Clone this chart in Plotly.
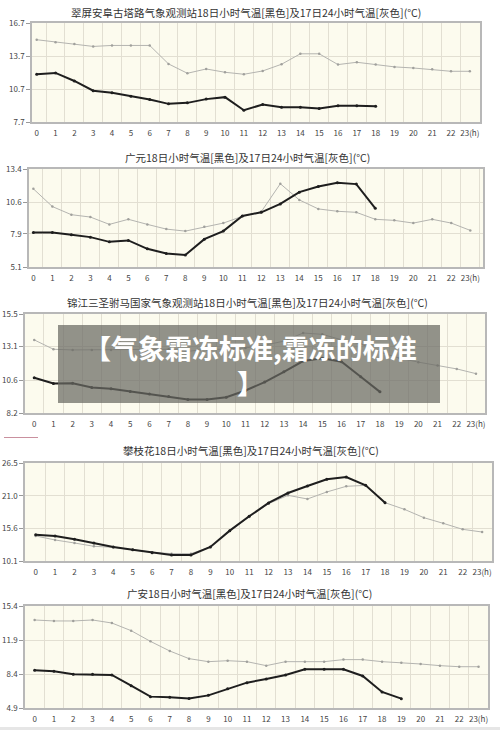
import plotly.graph_objects as go

hours = list(range(24))
hour_labels = [str(h) for h in range(23)] + ["23(h)"]

# 翠屏安阜古塔路
p1_title = "翠屏安阜古塔路气象观测站18日小时气温[黑色]及17日24小时气温[灰色](°C)"
p1_ticks = [7.7, 10.7, 13.7, 16.7]
p1_gray = [15.18, 14.96, 14.78, 14.57, 14.66, 14.66, 14.66, 12.98, 12.13, 12.52, 12.22, 12.04,
           12.34, 12.95, 13.9, 13.9, 12.92, 13.13, 12.92, 12.71, 12.61, 12.49, 12.31, 12.31]
p1_black = [12.04, 12.16, 11.43, 10.54, 10.36, 10.05, 9.75, 9.35, 9.44, 9.78, 9.96, 8.77,
            9.29, 9.05, 9.05, 8.93, 9.17, 9.17, 9.14]

# 广元
p2_title = "广元18日小时气温[黑色]及17日24小时气温[灰色](°C)"
p2_ticks = [5.1, 7.9, 10.6, 13.4]
p2_gray = [11.72, 10.22, 9.53, 9.33, 8.71, 9.14, 8.71, 8.31, 8.14, 8.51, 8.82, 9.39,
           9.79, 12.15, 10.78, 10.02, 9.82, 9.73, 9.14, 9.05, 8.82, 9.14, 8.82, 8.2]
p2_black = [8.03, 8.03, 7.83, 7.63, 7.23, 7.35, 6.64, 6.24, 6.12, 7.46, 8.14, 9.42,
            9.73, 10.44, 11.44, 11.92, 12.23, 12.12, 10.07]

# 锦江
p3_title = "锦江三圣驸马国家气象观测站18日小时气温[黑色]及17日24小时气温[灰色](°C)"
p3_ticks = [8.2, 10.6, 13.1, 15.5]
p3_gray = [13.59, 12.9, 12.85, 12.85, 12.85, 12.9, 12.9, 12.9, 12.75, 12.9, 12.9, 13.0,
           13.2, 13.5, 14.1, 14.0, 13.6, 13.3, 12.7, 12.25, 11.95, 11.7, 11.45, 11.1]
p3_black = [10.8, 10.38, 10.4, 10.08, 9.98, 9.78, 9.61, 9.41, 9.19, 9.19, 9.36, 9.86,
            10.48, 11.24, 12.03, 12.23, 11.98, 10.87, 9.76]

# 攀枝花
p4_title = "攀枝花18日小时气温[黑色]及17日24小时气温[灰色](°C)"
p4_ticks = [10.1, 15.6, 21.0, 26.5]
p4_gray = [14.29, 13.62, 13.11, 12.56, 12.39, 12.0, 11.55, 11.33, 11.33, 12.45, 15.18, 17.46,
           19.7, 21.09, 20.48, 21.65, 22.6, 22.76, 19.86, 18.74, 17.35, 16.4, 15.4, 14.95]
p4_black = [14.51, 14.29, 13.73, 13.11, 12.45, 12.0, 11.5, 11.11, 11.11, 12.45, 15.18, 17.58,
            19.81, 21.48, 22.65, 23.77, 24.16, 22.76, 19.86]

# 广安
p5_title = "广安18日小时气温[黑色]及17日24小时气温[灰色](°C)"
p5_ticks = [4.9, 8.4, 11.9, 15.4]
p5_gray = [13.96, 13.86, 13.86, 13.96, 13.65, 12.86, 11.76, 10.77, 9.98, 9.67, 9.77, 9.67,
           9.26, 9.67, 9.67, 9.67, 9.88, 9.88, 9.67, 9.57, 9.43, 9.26, 9.15, 9.15]
p5_black = [8.78, 8.68, 8.37, 8.37, 8.3, 7.2, 6.07, 6.0, 5.89, 6.2, 6.89, 7.51,
            7.89, 8.3, 8.88, 8.88, 8.88, 8.2, 6.55, 5.86]

banner_text = "【气象霜冻标准,霜冻的标准<br>】"

W, H = 500, 730

# plot box in pixels (left, right, top, bottom), x range, title centre
panels = [
    dict(title=p1_title, ticks=p1_ticks, gray=p1_gray, black=p1_black,
         box=(32, 480, 23, 122), xr=(-0.25, 23.54), tx=246, ty=12),
    dict(title=p2_title, ticks=p2_ticks, gray=p2_gray, black=p2_black,
         box=(29, 483, 169, 267), xr=(-0.23, 23.67), tx=247, ty=157),
    dict(title=p3_title, ticks=p3_ticks, gray=p3_gray, black=p3_black,
         box=(25, 485, 314, 413), xr=(-0.48, 23.47), tx=247, ty=302),
    dict(title=p4_title, ticks=p4_ticks, gray=p4_gray, black=p4_black,
         box=(25, 492, 463, 561), xr=(-0.55, 23.51), tx=251, ty=450),
    dict(title=p5_title, ticks=p5_ticks, gray=p5_gray, black=p5_black,
         box=(25, 488, 606, 708), xr=(-0.5, 23.49), tx=249, ty=593),
]

FONT = "Noto Sans CJK SC, Noto Sans, sans-serif"

fig = go.Figure()
layout = dict(
    width=W,
    height=H,
    margin=dict(l=0, r=0, t=0, b=0),
    paper_bgcolor="white",
    plot_bgcolor="#fcfbee",
    showlegend=False,
    font=dict(family=FONT, color="#444"),
)
annotations = []
shapes = []

for i, p in enumerate(panels, start=1):
    left, right, top, bottom = p["box"]
    xa = "x" if i == 1 else f"x{i}"
    ya = "y" if i == 1 else f"y{i}"
    fig.add_trace(go.Scatter(
        x=hours[:len(p["gray"])], y=p["gray"], xaxis=xa, yaxis=ya,
        mode="lines+markers", line=dict(color="#b4b4b0", width=1),
        marker=dict(color="#a0a09c", size=2.5), hoverinfo="skip",
    ))
    fig.add_trace(go.Scatter(
        x=hours[:len(p["black"])], y=p["black"], xaxis=xa, yaxis=ya,
        mode="lines+markers", line=dict(color="#1e1e1e", width=2),
        marker=dict(color="#1e1e1e", size=3), hoverinfo="skip",
    ))
    layout[f"xaxis{i}"] = dict(
        domain=[left / W, right / W],
        anchor=ya,
        range=list(p["xr"]),
        tickmode="array",
        tickvals=hours,
        ticktext=hour_labels,
        tickfont=dict(size=8, color="#444"),
        showgrid=False,
        zeroline=False,
        showline=True,
        linecolor="#b8b8b8",
        linewidth=1.5,
        mirror=True,
        ticks="",
        ticklabelstandoff=3,
        automargin=False,
        minor=dict(tickmode="linear", tick0=0.5, dtick=1, showgrid=True,
                   gridcolor="#e2dfd2", gridwidth=1),
        fixedrange=True,
    )
    layout[f"yaxis{i}"] = dict(
        domain=[1 - bottom / H, 1 - top / H],
        anchor=xa,
        range=[p["ticks"][0], p["ticks"][-1]],
        tickmode="array",
        tickvals=p["ticks"],
        ticktext=[f"{v:.1f}" for v in p["ticks"]],
        tickfont=dict(size=8, color="#444"),
        showgrid=True,
        gridcolor="#e2dfd2",
        zeroline=False,
        showline=True,
        linecolor="#b8b8b8",
        linewidth=1.5,
        mirror=True,
        ticks="outside",
        ticklen=4,
        tickcolor="#999",
        automargin=False,
        fixedrange=True,
    )
    annotations.append(dict(
        text=p["title"], x=p["tx"] / W, y=1 - p["ty"] / H,
        xref="paper", yref="paper", xanchor="center", yanchor="middle",
        showarrow=False, font=dict(size=10.5, color="#333", family=FONT),
    ))

# grey banner laid over the third chart
shapes.append(dict(
    type="rect", xref="paper", yref="paper",
    x0=58 / W, x1=440 / W, y0=1 - 403 / H, y1=1 - 325 / H,
    fillcolor="rgba(105,105,98,0.72)", line=dict(width=0), layer="above",
))
annotations.append(dict(
    text=f"<b>{banner_text}</b>", x=250 / W, y=1 - 365 / H,
    xref="paper", yref="paper", xanchor="center", yanchor="middle", align="center",
    showarrow=False, font=dict(size=27, color="white", family=FONT),
))

# small pink rule and bottom strip
shapes.append(dict(
    type="line", xref="paper", yref="paper",
    x0=4 / W, x1=38 / W, y0=1 - 437.5 / H, y1=1 - 437.5 / H,
    line=dict(color="#c9909e", width=1),
))
shapes.append(dict(
    type="rect", xref="paper", yref="paper",
    x0=0, x1=1, y0=0, y1=3 / H,
    fillcolor="#e6e6e6", line=dict(width=0),
))

layout["annotations"] = annotations
layout["shapes"] = shapes
fig.update_layout(**layout)

# drop the default page margin so the figure sits at the window's corner
fig.write_html(
    "out.html",
    config={"displayModeBar": False},
    post_script="document.body.style.margin='0';",
)
